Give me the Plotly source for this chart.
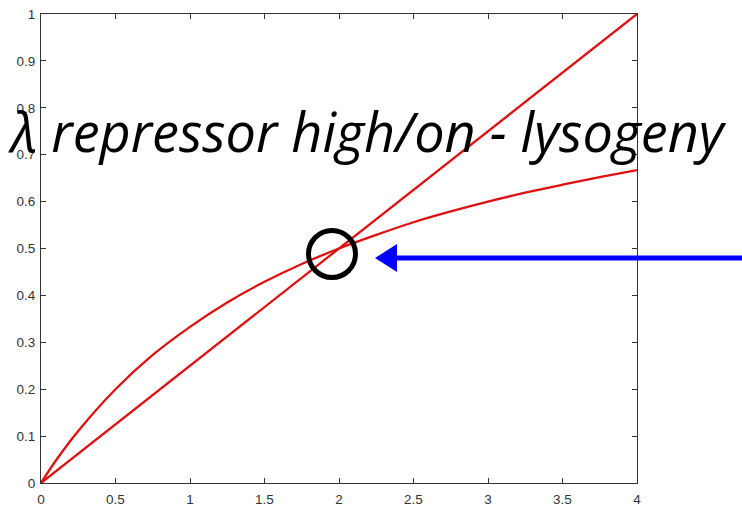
import plotly.graph_objects as go

# Data
x_vals = [0, 0.1, 0.25, 0.5, 0.75, 1.0, 1.25, 1.5, 1.75, 2.0, 2.25, 2.5, 2.75, 3.0, 3.25, 3.5, 3.75, 4.0]
line_vals = [0, 0.025, 0.0625, 0.125, 0.1875, 0.25, 0.3125, 0.375, 0.4375, 0.5, 0.5625, 0.625, 0.6875, 0.75, 0.8125, 0.875, 0.9375, 1.0]
curve_vals = [0, 0.048, 0.111, 0.2, 0.273, 0.333, 0.385, 0.429, 0.467, 0.5, 0.529, 0.556, 0.579, 0.6, 0.619, 0.636, 0.652, 0.667]
x_ticks = [0, 0.5, 1, 1.5, 2, 2.5, 3, 3.5, 4]
x_tick_text = ["0", "0.5", "1", "1.5", "2", "2.5", "3", "3.5", "4"]
y_ticks = [0, 0.1, 0.2, 0.3, 0.4, 0.5, 0.6, 0.7, 0.8, 0.9, 1]
y_tick_text = ["0", "0.1", "0.2", "0.3", "0.4", "0.5", "0.6", "0.7", "0.8", "0.9", "1"]
title_text = "λ repressor high/on - lysogeny"

W, H = 742, 509
L, R, T, B = 41, 105, 14, 26
pw, ph = W - L - R, H - T - B


def px_x(p):
    return (p - L) / pw


def px_y(p):
    return (H - B - p) / ph


red = "#dd1111"
fig = go.Figure()
fig.add_trace(go.Scatter(x=x_vals, y=line_vals, mode="lines",
                         line=dict(color=red, width=2.3), showlegend=False))
fig.add_trace(go.Scatter(x=x_vals, y=curve_vals, mode="lines", line_shape="spline",
                         line=dict(color=red, width=2.3), showlegend=False))

axis_common = dict(showgrid=False, zeroline=False, showline=True, linecolor="#333333",
                   linewidth=1, mirror="ticks", ticks="inside", ticklen=5, tickcolor="#333333",
                   automargin=False,
                   tickfont=dict(family="Liberation Sans, Arial", size=13.5, color="#333333"))
fig.update_xaxes(range=[0, 4], tickvals=x_ticks, ticktext=x_tick_text, ticklabelstandoff=4, **axis_common)
fig.update_yaxes(range=[0, 1], tickvals=y_ticks, ticktext=y_tick_text, ticklabelstandoff=2, **axis_common)

shapes = []
# circle
cx, cy, r = 332, 254, 23.5
shapes.append(dict(type="circle", xref="paper", yref="paper",
                   x0=px_x(cx - r), x1=px_x(cx + r), y0=px_y(cy + r), y1=px_y(cy - r),
                   line=dict(color="black", width=5)))
# arrow shaft
ay = 258
shapes.append(dict(type="line", xref="paper", yref="paper",
                   x0=px_x(392), x1=px_x(742), y0=px_y(ay), y1=px_y(ay),
                   line=dict(color="#0000ff", width=5)))
# arrow head
tip, base, hh = 375, 397, 14
shapes.append(dict(type="path", xref="paper", yref="paper",
                   path=f"M {px_x(tip)} {px_y(ay)} L {px_x(base)} {px_y(ay - hh)} L {px_x(base)} {px_y(ay + hh)} Z",
                   fillcolor="#0000ff", line=dict(color="#0000ff", width=0)))

fig.update_layout(
    width=W, height=H, margin=dict(l=L, r=R, t=T, b=B),
    paper_bgcolor="white", plot_bgcolor="white",
    shapes=shapes,
    annotations=[dict(text=title_text, xref="paper", yref="paper",
                      x=px_x(367), y=px_y(131), xanchor="center", yanchor="middle",
                      showarrow=False,
                      font=dict(family="Open Sans", size=54, color="black", style="italic"))],
)

fig.write_html("out.html", config={"displayModeBar": False},
               post_script="document.body.style.margin='0';")
